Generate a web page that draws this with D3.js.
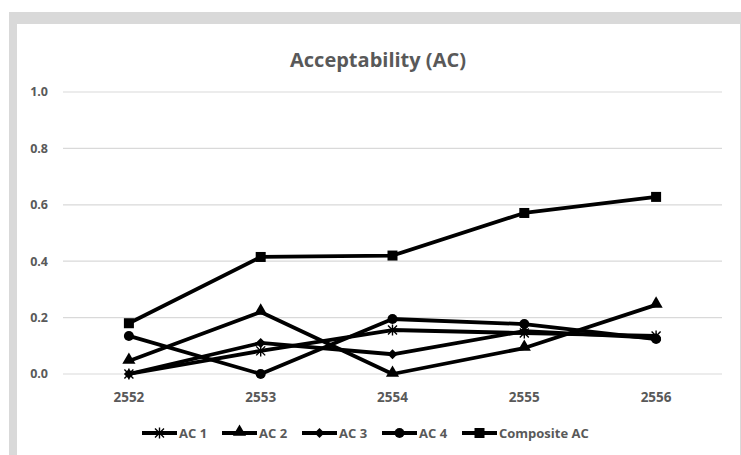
<!DOCTYPE html>
<html lang="en">
<head>
    <meta charset="UTF-8">
    <title>Acceptability (AC)</title>
    <style>
        body { margin: 0; background: #ffffff; }
        text { font-family: "Open Sans", "Noto Sans", sans-serif; font-weight: bold; fill: #595959; }
    </style>
</head>
<body>
    <script src="https://d3js.org/d3.v7.min.js"></script>
    <div id="chart"></div>
    <script>
        // data
        var years = ["2552", "2553", "2554", "2555", "2556"];
        var ac1 = [0.0, 0.082, 0.156, 0.145, 0.135];
        var ac2 = [0.046, 0.22, 0.0, 0.092, 0.245];
        var ac3 = [0.0, 0.11, 0.07, 0.152, 0.128];
        var ac4 = [0.135, 0.0, 0.195, 0.177, 0.124];
        var composite = [0.18, 0.415, 0.42, 0.571, 0.628];
        var seriesNames = ["AC 1", "AC 2", "AC 3", "AC 4", "Composite AC"];
        var yTicks = [0, 0.2, 0.4, 0.6, 0.8, 1.0];

        var series = [
            { name: seriesNames[0], values: ac1, marker: "star" },
            { name: seriesNames[1], values: ac2, marker: "triangle" },
            { name: seriesNames[2], values: ac3, marker: "diamond" },
            { name: seriesNames[3], values: ac4, marker: "circle" },
            { name: seriesNames[4], values: composite, marker: "square" }
        ];

        var W = 741, H = 455;
        var svg = d3.select("#chart").append("svg")
            .attr("width", W).attr("height", H);

        // frame
        svg.append("rect").attr("x", 9).attr("y", 12).attr("width", 732).attr("height", 443).attr("fill", "#d9d9d9");
        svg.append("rect").attr("x", 17).attr("y", 24).attr("width", 723).attr("height", 431).attr("fill", "#ffffff");

        var x = d3.scalePoint().domain(years).range([63, 722]).padding(0.5);
        var y = d3.scaleLinear().domain([0, 1]).range([374, 92]);

        // title
        svg.append("text")
            .attr("x", 378).attr("y", 67)
            .attr("text-anchor", "middle")
            .style("font-size", "20px")
            .text("Acceptability (AC)");

        // gridlines
        svg.append("g").selectAll("line")
            .data(yTicks).enter().append("line")
            .attr("x1", 63).attr("x2", 722)
            .attr("y1", function (d) { return y(d); })
            .attr("y2", function (d) { return y(d); })
            .attr("stroke", "#d9d9d9").attr("stroke-width", 1.2);

        // y labels
        svg.append("g").selectAll("text")
            .data(yTicks).enter().append("text")
            .attr("x", 48)
            .attr("y", function (d) { return y(d); })
            .attr("dy", "0.35em")
            .attr("text-anchor", "end")
            .style("font-size", "12.5px")
            .text(d3.format(".1f"));

        // x labels
        svg.append("g").selectAll("text")
            .data(years).enter().append("text")
            .attr("x", function (d) { return x(d); })
            .attr("y", 402)
            .attr("text-anchor", "middle")
            .style("font-size", "13.5px")
            .text(function (d) { return d; });

        // markers
        function drawMarker(g, type, cx, cy) {
            if (type === "square") {
                g.append("rect").attr("x", cx - 5).attr("y", cy - 5).attr("width", 10).attr("height", 10).attr("fill", "#000");
            } else if (type === "circle") {
                g.append("circle").attr("cx", cx).attr("cy", cy).attr("r", 5).attr("fill", "#000");
            } else if (type === "triangle") {
                g.append("path").attr("d", d3.symbol(d3.symbolTriangle, 75)())
                    .attr("transform", "translate(" + cx + "," + (cy - 1) + ")").attr("fill", "#000");
            } else if (type === "diamond") {
                g.append("path").attr("d", d3.symbol(d3.symbolSquare, 50)())
                    .attr("transform", "translate(" + cx + "," + cy + ") rotate(45)").attr("fill", "#000");
            } else if (type === "star") {
                var r = 4.5;
                g.append("path")
                    .attr("d", "M" + (cx - r) + "," + (cy - r) + "L" + (cx + r) + "," + (cy + r) +
                        "M" + (cx - r) + "," + (cy + r) + "L" + (cx + r) + "," + (cy - r) +
                        "M" + cx + "," + (cy - r - 1) + "L" + cx + "," + (cy + r + 1))
                    .attr("stroke", "#000").attr("stroke-width", 1.4).attr("fill", "none");
            }
        }

        var line = d3.line()
            .x(function (d, i) { return x(years[i]); })
            .y(function (d) { return y(d); });

        series.forEach(function (s) {
            var g = svg.append("g");
            g.append("path")
                .datum(s.values)
                .attr("d", line)
                .attr("fill", "none")
                .attr("stroke", "#000")
                .attr("stroke-width", 3.8)
                .attr("stroke-linejoin", "round");
            s.values.forEach(function (v, i) {
                drawMarker(g, s.marker, x(years[i]), y(v));
            });
        });

        // legend
        var legend = svg.append("g");
        series.forEach(function (s, i) {
            var lx = 142 + i * 80, ly = 433;
            legend.append("line")
                .attr("x1", lx).attr("x2", lx + 35)
                .attr("y1", ly).attr("y2", ly)
                .attr("stroke", "#000").attr("stroke-width", 3.8);
            drawMarker(legend, s.marker, lx + 17.5, ly);
            legend.append("text")
                .attr("x", lx + 37).attr("y", ly)
                .attr("dy", "0.35em")
                .style("font-size", "13px")
                .text(s.name);
        });
    </script>
</body>
</html>
